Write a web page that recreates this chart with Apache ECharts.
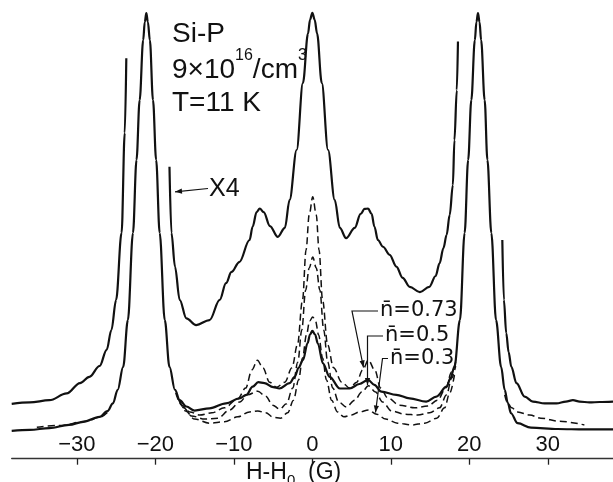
<!DOCTYPE html>
<html><head><meta charset="utf-8">
<script src="https://cdn.jsdelivr.net/npm/echarts@6/dist/echarts.min.js"></script>
<style>html,body{margin:0;padding:0;background:#fff}#c{width:613px;height:482px}</style>
</head><body><div id="c"></div>
<script>
// ---- data: field offset H-H0 (G) vs. ESR signal (arb. units) ----
const fieldTicks = [-30, -20, -10, 0, 10, 20, 30];

// measured spectrum, x1
const x1Trace = [
[-38.3,6.2],[-36.0,6.4],[-33.5,6.8],[-31.0,7.5],[-29.2,8.2],[-27.1,9.3],[-26.1,10.6],[-25.4,12.3],[-24.8,15.3],[-24.1,20.4],[-23.5,30.8],[-22.85,50.2],[-22.4,66.4],[-22.0,79.7],[-21.55,93.0],[-21.35,97.0],[-21.15,99.0],[-20.95,97.0],[-20.7,93.0],[-20.3,79.7],[-19.9,66.4],[-19.45,50.2],[-18.8,30.8],[-18.2,20.4],[-17.5,15.3],[-16.9,13.0],[-16.05,11.6],[-15.0,10.7],[-13.1,11.2],[-11.0,12.3],[-9.3,13.4],[-8.4,14.2],[-7.6,16.0],[-6.9,17.0],[-6.1,16.8],[-5.0,15.9],[-4.2,15.6],[-2.9,16.8],[-2.25,18.2],[-1.75,20.2],[-1.2,21.9],[-0.6,25.7],[-0.3,27.6],[0.0,28.4],[0.35,27.6],[0.7,25.6],[1.35,21.2],[2.2,18.2],[3.5,15.6],[4.75,15.6],[6.0,16.6],[7.1,17.5],[7.9,16.4],[8.8,14.9],[10.7,14.2],[12.4,13.4],[14.5,12.7],[15.8,13.8],[17.1,16.0],[17.6,17.9],[18.1,20.4],[18.8,30.8],[19.4,50.2],[19.85,66.4],[20.25,79.7],[20.7,93.0],[20.9,97.0],[21.1,99.0],[21.3,97.0],[21.5,93.0],[21.95,79.7],[22.3,66.4],[22.8,50.2],[23.4,30.8],[24.05,20.4],[24.5,15.3],[24.9,12.4],[25.3,10.1],[26.15,7.9],[27.85,6.9],[31.25,6.6],[34.7,6.5],[38.3,6.5]
];

// measured spectrum, x4 (goes off scale near the outer lines)
const x4Left = [
[-38.3,12.2],[-36.0,12.5],[-33.5,13.0],[-31.3,14.5],[-29.6,16.8],[-28.4,18.2],[-27.1,20.6],[-26.2,24.2],[-25.6,28.6],[-25.0,35.3],[-24.3,50.2],[-23.9,72.4],[-23.7,89.0]
];
const x4Mid = [
[-18.2,64.9],[-17.95,50.2],[-17.5,42.7],[-16.9,35.3],[-16.05,31.2],[-14.8,29.7],[-13.1,30.8],[-11.8,35.3],[-11.0,39.0],[-10.3,41.5],[-9.3,43.7],[-8.0,48.6],[-7.6,51.6],[-7.1,54.8],[-6.7,55.6],[-6.2,54.8],[-5.4,51.7],[-4.4,49.3],[-3.5,51.3],[-2.9,57.5],[-2.0,68.6],[-1.2,83.5],[-0.55,94.5],[-0.3,97.5],[0.0,99.1],[0.3,97.5],[0.6,94.5],[1.2,83.5],[2.0,68.6],[2.85,57.5],[3.5,51.3],[4.3,49.0],[5.4,51.3],[6.15,54.4],[6.65,55.5],[7.1,55.6],[7.55,54.4],[7.9,51.6],[8.35,48.6],[9.0,47.1],[9.85,45.3],[10.7,42.7],[11.5,40.2],[12.4,38.2],[13.7,37.0],[14.9,38.2],[15.7,40.6],[16.2,43.4],[16.7,46.8],[17.1,49.7],[17.5,54.2],[17.9,60.8],[18.1,70.8],[18.4,81.9],[18.55,92.7]
];
const x4Right = [
[24.2,48.6],[24.4,35.3],[24.7,27.9],[25.0,23.7],[25.35,20.4],[26.0,16.8],[27.05,13.8],[28.1,12.7],[29.6,12.3],[31.1,12.3],[32.3,12.7],[33.2,13.0],[34.05,12.7],[35.3,12.5],[36.6,12.6],[38.3,12.7]
];

// computed spectra (dashed) for mean cluster numbers
const sim073 = [
[-17.4,14.6],[-16.65,11.9],[-15.6,10.4],[-14.35,9.7],[-12.8,10.2],[-11.2,11.3],[-9.5,13.3],[-8.5,15.7],[-7.7,19.7],[-7.0,21.9],[-6.3,20.2],[-5.45,17.0],[-4.55,15.9],[-3.5,17.0],[-2.6,20.2],[-1.9,25.3],[-1.25,35.3],[-0.8,46.4],[-0.4,54.2],[0.05,58.2],[0.5,54.2],[0.85,46.4],[1.3,35.3],[1.95,25.3],[2.7,20.2],[3.75,17.0],[4.75,15.7],[5.65,17.0],[6.4,19.7],[7.15,21.9],[7.95,19.7],[8.7,15.7],[9.6,13.5],[11.1,11.9],[13.0,11.3],[14.7,11.7],[15.95,13.0],[17.0,15.7],[17.75,19.3],[18.25,21.5]
];
const sim050 = [
[-17.15,13.7],[-16.4,11.3],[-15.4,9.5],[-13.7,8.8],[-12.05,9.0],[-10.55,10.8],[-9.25,12.6],[-8.25,14.2],[-6.95,15.0],[-5.95,13.9],[-5.05,11.9],[-4.15,11.0],[-3.3,12.2],[-2.5,15.7],[-1.85,21.5],[-1.35,28.6],[-0.85,37.5],[-0.4,42.4],[0.05,44.8],[0.5,42.4],[0.95,37.5],[1.45,28.6],[1.95,21.5],[2.6,15.7],[3.35,12.6],[4.35,11.5],[5.4,13.0],[6.3,14.8],[7.15,16.2],[8.05,14.8],[8.95,12.6],[10.1,10.6],[11.75,9.9],[13.4,9.7],[14.95,10.2],[16.2,11.3],[17.1,14.2],[17.75,17.9],[18.25,20.6]
];
const sim030 = [
[-16.9,13.0],[-16.15,10.6],[-15.0,8.8],[-13.1,7.9],[-11.2,8.2],[-9.5,9.3],[-8.0,10.4],[-6.95,10.6],[-5.95,10.2],[-4.95,9.2],[-4.05,9.0],[-3.15,10.2],[-2.4,13.0],[-1.75,17.5],[-1.25,22.4],[-0.75,27.5],[-0.35,30.6],[0.05,31.5],[0.4,30.6],[0.8,27.5],[1.3,22.4],[1.8,17.5],[2.45,13.0],[3.2,10.4],[4.0,9.3],[5.0,9.7],[6.0,10.4],[7.15,10.8],[8.2,9.9],[9.35,8.8],[10.85,7.9],[12.65,7.5],[14.3,7.9],[15.85,9.0],[16.85,11.3],[17.5,14.6],[18.1,18.6]
];
const simTailLeft = [[-35.1,7.0],[-32.2,7.4],[-28.8,8.3],[-27.1,9.2],[-26.1,10.3]];
const simTailRight = [[24.5,14.2],[24.9,12.3],[25.4,11.3],[26.15,10.4],[27.7,9.7],[29.1,9.0],[31.5,8.3],[34.65,7.5]];

const nbarLabels = ['n\u0304=0.73', 'n\u0304=0.5', 'n\u0304=0.3'];
const sampleLines = ['Si-P', '{a|9\u00d710}{s|16}{a|/cm}{s|3}', 'T=11 K'];
const gainLabel = 'X4';
const axisTitle = '{a|H-H}{b|0}{a|  (G)}';

// ---- chart ----
const INK = '#111';
const chart = echarts.init(document.getElementById('c'), null, {renderer: 'canvas'});

function solid(data) {
  return {type: 'line', data, showSymbol: false, symbol: 'none', smooth: 0.35, smoothMonotone: 'x',
    lineStyle: {color: INK, width: 2.2}, silent: true, z: 3};
}
function dashed(data) {
  return {type: 'line', data, showSymbol: false, symbol: 'none', smooth: 0.35, smoothMonotone: 'x',
    lineStyle: {color: INK, width: 1.5, type: [7, 4]}, silent: true, z: 2};
}

function arrowHead(tip, from, len, half) {
  const dx = tip[0] - from[0], dy = tip[1] - from[1];
  const L = Math.hypot(dx, dy), ux = dx / L, uy = dy / L;
  const bx = tip[0] - ux * len, by = tip[1] - uy * len;
  return [[tip[0], tip[1]], [bx - uy * half, by + ux * half], [bx + uy * half, by - ux * half]];
}
function leader(points, tip) {
  const last = points[points.length - 1];
  return [
    {type: 'polyline', z: 100, shape: {points: points.concat([tip])}, style: {stroke: INK, lineWidth: 1.2, fill: null}},
    {type: 'polygon', z: 100, shape: {points: arrowHead(tip, last, 7, 2.6)}, style: {fill: INK}}
  ];
}

const graphic = [].concat(
  [
    {type: 'text', z: 100, x: 172, y: 34, style: {text: sampleLines[0], fontSize: 28, fontFamily: 'Liberation Sans', fill: INK, align: 'left', verticalAlign: 'middle'}},
    {type: 'text', z: 100, x: 172, y: 70, style: {text: sampleLines[1], fill: INK, align: 'left', verticalAlign: 'middle',
      rich: {a: {fontSize: 28, fontFamily: 'Liberation Sans', lineHeight: 44, fill: INK},
             s: {fontSize: 16, fontFamily: 'Liberation Sans', verticalAlign: 'top', fill: INK}}}},
    {type: 'text', z: 100, x: 172, y: 103, style: {text: sampleLines[2], fontSize: 28, fontFamily: 'Liberation Sans', fill: INK, align: 'left', verticalAlign: 'middle'}},
    {type: 'text', z: 100, x: 209, y: 189, style: {text: gainLabel, fontSize: 25, fontFamily: 'Liberation Sans', fill: INK, align: 'left', verticalAlign: 'middle'}},
    {type: 'text', z: 100, x: 380, y: 311, style: {text: nbarLabels[0], fontSize: 21, fontFamily: 'DejaVu Sans', fill: INK, align: 'left', verticalAlign: 'middle'}},
    {type: 'text', z: 100, x: 385, y: 336, style: {text: nbarLabels[1], fontSize: 21, fontFamily: 'DejaVu Sans', fill: INK, align: 'left', verticalAlign: 'middle'}},
    {type: 'text', z: 100, x: 390, y: 359, style: {text: nbarLabels[2], fontSize: 21, fontFamily: 'DejaVu Sans', fill: INK, align: 'left', verticalAlign: 'middle'}},
    {type: 'text', z: 100, x: 246, y: 472.5, style: {text: axisTitle, fill: INK, align: 'left', verticalAlign: 'middle',
      rich: {a: {fontSize: 23, fontFamily: 'Liberation Sans', lineHeight: 32, fill: INK},
             b: {fontSize: 15, fontFamily: 'Liberation Sans', verticalAlign: 'bottom', fill: INK}}}}
  ],
  leader([[208, 188.5]], [175, 191.8]),
  leader([[378, 311], [352, 311]], [363.5, 367.5]),
  leader([[383, 336], [367.5, 336]], [367.5, 385]),
  leader([[388, 358.5], [382.5, 358.5]], [375.5, 412.5])
);

chart.setOption({
  animation: false,
  backgroundColor: '#fff',
  grid: {left: 11.7, right: 0, top: 8.7, bottom: 23.3, containLabel: false},
  xAxis: {
    type: 'value', min: -38.3, max: 38.3,
    axisLine: {show: true, onZero: false, lineStyle: {color: '#333', width: 1.3}},
    axisTick: {show: true, inside: false, length: 6, customValues: fieldTicks, lineStyle: {color: '#222', width: 1.3}},
    axisLabel: {show: true, inside: true, margin: 3, customValues: fieldTicks,
      formatter: v => (v < 0 ? '\u2212' + (-v) : String(v)),
      fontFamily: 'Liberation Sans', fontSize: 22, color: INK},
    splitLine: {show: false}
  },
  yAxis: {type: 'value', min: 0, max: 100, show: false, splitLine: {show: false}},
  series: [
    solid(x1Trace), solid(x4Left), solid(x4Mid), solid(x4Right),
    dashed(sim073), dashed(sim050), dashed(sim030), dashed(simTailLeft), dashed(simTailRight)
  ],
  graphic
});
</script>
</body></html>
